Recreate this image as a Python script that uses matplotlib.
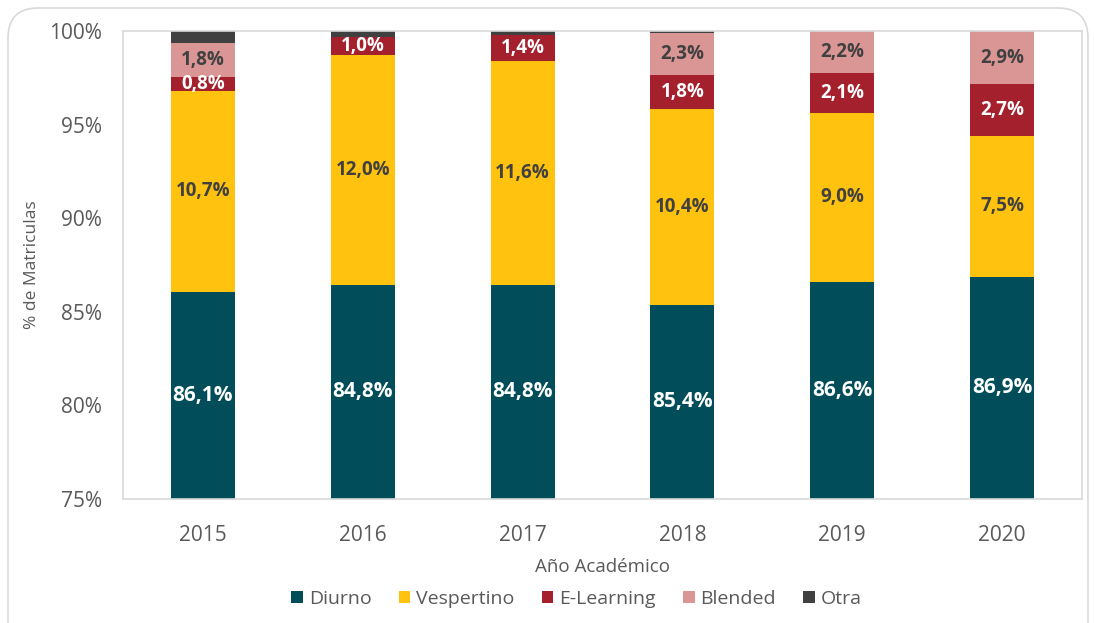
import matplotlib.pyplot as plt
import numpy as np
from matplotlib.patches import FancyBboxPatch

plt.rcParams['font.family'] = ['Open Sans', 'DejaVu Sans']

# datos (altura de cada tramo, %)
years = ['2015', '2016', '2017', '2018', '2019', '2020']
diurno = [86.08, 86.46, 86.46, 85.37, 86.58, 86.88]
vespertino = [10.72, 12.27, 11.92, 10.45, 9.07, 7.52]
elearning = [0.77, 0.96, 1.41, 1.82, 2.14, 2.75]
blended = [1.78, 0.0, 0.0, 2.26, 2.21, 2.85]
otra = [0.65, 0.31, 0.21, 0.10, 0.0, 0.0]

# etiquetas tal como aparecen en el grafico
lab_diurno = [86.1, 84.8, 84.8, 85.4, 86.6, 86.9]
lab_vespertino = [10.7, 12.0, 11.6, 10.4, 9.0, 7.5]
lab_elearning = [0.8, 1.0, 1.4, 1.8, 2.1, 2.7]
lab_blended = [1.8, None, None, 2.3, 2.2, 2.9]

series = [
    ('Diurno', diurno, '#014d59', lab_diurno, 'white', 15),
    ('Vespertino', vespertino, '#ffc20e', lab_vespertino, '#404040', 13.5),
    ('E-Learning', elearning, '#a5202d', lab_elearning, 'white', 13.5),
    ('Blended', blended, '#da9694', lab_blended, '#404040', 13.5),
    ('Otra', otra, '#404041', None, None, 13),
]

fig = plt.figure(figsize=(10.94, 6.23), dpi=100)
ax = fig.add_axes([0.1124, 0.199, 0.8766, 0.751])

x = np.arange(len(years))
ymin = 75
bottom = np.zeros(len(years))
for name, vals, color, labs, tcolor, fs in series:
    vals = np.array(vals)
    ax.bar(x, vals, 0.4, bottom=bottom, color=color, label=name, zorder=2)
    if labs is not None:
        for i, lab in enumerate(labs):
            if lab is None:
                continue
            lo = max(bottom[i], ymin)
            hi = bottom[i] + vals[i]
            txt = f'{lab:.1f}%'.replace('.', ',')
            ax.text(x[i], (lo + hi) / 2, txt, ha='center', va='center',
                    color=tcolor, fontsize=fs, fontweight='bold', zorder=3)
    bottom += vals

ax.set_ylim(75, 100)
ax.set_xlim(-0.5, len(years) - 0.5)
ax.set_yticks(np.arange(75, 101, 5))
ax.set_yticklabels([f'{v}%' for v in range(75, 101, 5)])
ax.set_xticks(x)
ax.set_xticklabels(years)
ax.tick_params(length=0, labelsize=15, colors='#595959')
ax.tick_params(axis='y', pad=15)
ax.tick_params(axis='x', pad=19)
for s in ax.spines.values():
    s.set_color('#d9d9d9')
    s.set_linewidth(1.2)

ax.set_ylabel('% de Matriculas', fontsize=12.5, color='#595959', labelpad=7)
ax.set_xlabel('Año Académico', fontsize=13.5, color='#595959', labelpad=8)

leg = fig.legend(loc='center', bbox_to_anchor=(0.527, 0.0385), ncol=5,
                 frameon=False, fontsize=14, handlelength=0.6, handleheight=0.6,
                 handletextpad=0.3, columnspacing=1.4)
for t in leg.get_texts():
    t.set_color('#595959')

border = FancyBboxPatch((0.08, -0.3), 10.8, 6.45,
                        boxstyle='round,pad=0,rounding_size=0.3',
                        transform=fig.dpi_scale_trans, fill=False,
                        edgecolor='#d9d9d9', linewidth=1.2)
fig.patches.append(border)

fig.savefig('out.png', dpi=100)
